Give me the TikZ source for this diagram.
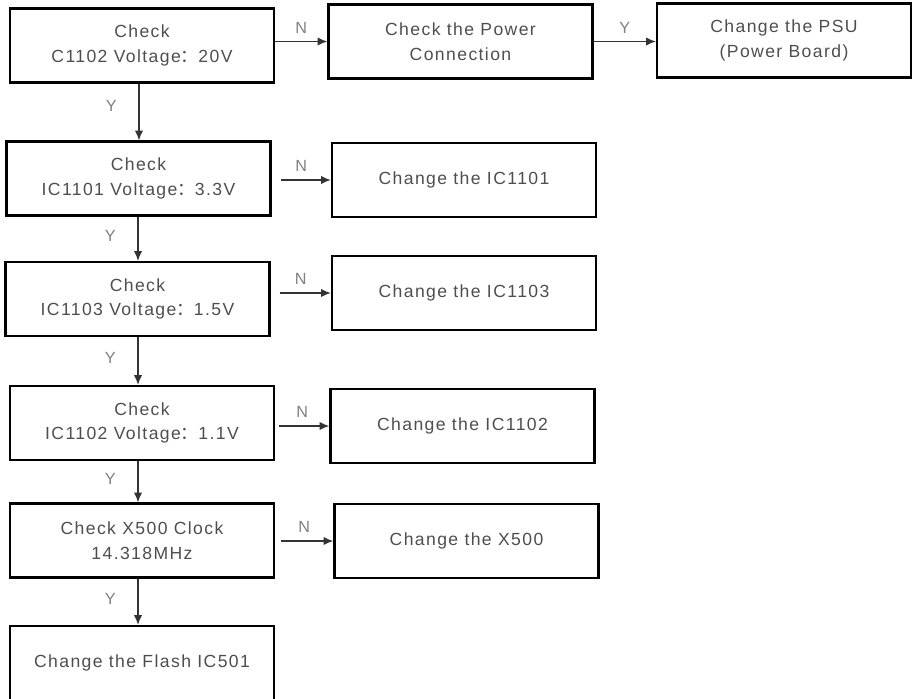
\documentclass[tikz,border=0pt]{standalone}
\usepackage{fontspec}
\setmainfont{Liberation Sans}[LetterSpace=8]
\newfontfamily\cjk{Noto Sans CJK SC}
\usepackage{xcolor}
\usetikzlibrary{arrows.meta}
\usetikzlibrary{positioning}
\definecolor{txtgray}{HTML}{4E4E4E}
\tikzstyle{block} = [draw, line width=1.6pt,
	align=center, text=txtgray,
	font=\fontsize{12.5}{17.5}\selectfont,
	minimum width = 6.6cm,
	minimum height = 1.85cm]
\tikzstyle{arrow} =[-{Latex[length=7pt,width=6pt]}, line width=1pt, draw=black!80]
\tikzstyle{lbl} = [text=black!50, font=\fontsize{11.5}{13}\selectfont]

\begin{document}
\begin{tikzpicture}[x=0.025cm, y=-0.025cm]
	\useasboundingbox (0,0) rectangle (913,698);
	% check column
	\node (b1) [block] at (142,45.5) {Check\\C1102 Voltage{\cjk ：}20V};
	\node (b2) [block] at (138.5,178.5) {Check\\IC1101 Voltage{\cjk ：}3.3V};
	\node (b3) [block] at (137.5,299) {Check\\IC1103 Voltage{\cjk ：}1.5V};
	\node (b4) [block] at (142,423) {Check\\IC1102 Voltage{\cjk ：}1.1V};
	\node (b5) [block] at (142,540.5) {Check X500 Clock\\14.318MHz};
	\node (b6) [block] at (142,663) {Change the Flash IC501};
	
	% action column
	\node (pwr) [block] at (460.5,41.5) {Check the Power\\Connection};
	\node (psu) [block, minimum width=6.35cm] at (784,40.5) {Change the PSU\\(Power Board)};
	\node (c2) [block] at (464,180) {Change the IC1101};
	\node (c3) [block] at (464,293) {Change the IC1103};
	\node (c4) [block] at (462.5,426) {Change the IC1102};
	\node (c5) [block] at (466.5,541) {Change the X500};
	
	\draw [arrow] (b1.east |- pwr.west) -- (pwr.west) node [lbl, midway, above, yshift=2pt] {N};
	\draw [arrow] (pwr.east) -- (psu.west |- pwr.east) node [lbl, midway, above, yshift=2pt] {Y};
	\draw [arrow, shorten <=6.4pt] (b2.east |- c2.west) -- (c2.west) node [lbl, midway, above, yshift=2pt] {N};
	\draw [arrow, shorten <=6.4pt] (b3.east |- c3.west) -- (c3.west) node [lbl, midway, above, yshift=2pt] {N};
	\draw [arrow, shorten <=2.8pt] (b4.east |- c4.west) -- (c4.west) node [lbl, midway, above, yshift=2pt] {N};
	\draw [arrow, shorten <=4.3pt] (b5.east |- c5.west) -- (c5.west) node [lbl, midway, above, yshift=2pt] {N};
	
	\draw [arrow] (b1.south -| 139,0) -- (b2.north -| 139,0) node [lbl, midway, left, xshift=-12pt, yshift=4pt] {Y};
	\draw [arrow] (b2.south -| 138,0) -- (b3.north -| 138,0) node [lbl, midway, left, xshift=-12pt, yshift=2pt] {Y};
	\draw [arrow] (b3.south -| 138,0) -- (b4.north -| 138,0) node [lbl, midway, left, xshift=-12pt, yshift=2pt] {Y};
	\draw [arrow] (b4.south -| 138,0) -- (b5.north -| 138,0) node [lbl, midway, left, xshift=-12pt, yshift=2pt] {Y};
	\draw [arrow] (b5.south -| 138,0) -- (b6.north -| 138,0) node [lbl, midway, left, xshift=-12pt, yshift=2pt] {Y};
\end{tikzpicture}
\end{document}
